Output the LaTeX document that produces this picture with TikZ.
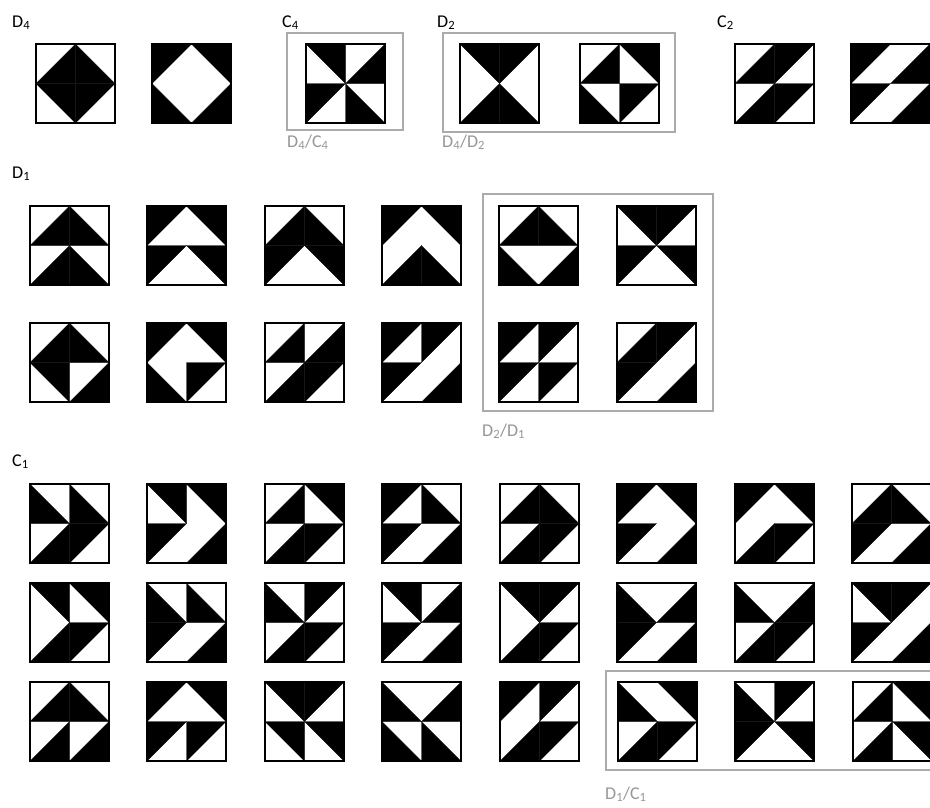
\documentclass[tikz,border=0pt]{standalone}
\usepackage{fontspec}
\setmainfont{Carlito}
\definecolor{boxgray}{HTML}{ABABAB}
\definecolor{labgray}{HTML}{979797}
\tikzset{
  tileborder/.style={draw=black, line width=1.6pt},
  groupbox/.style={draw=boxgray, line width=2.5pt},
  grouplabel/.style={anchor=base west, font=\fontsize{18}{21}\selectfont, text=black, inner sep=0pt},
  quotlabel/.style={anchor=base west, font=\fontsize{18}{21}\selectfont, text=labgray, inner sep=0pt},
  blk/.style={fill=black, draw=black, line width=0.3pt}
}
\newcommand\qdtl[3]{\path[blk] (#1,#2) -- ++(#3,0) -- ++(-#3,#3) -- cycle;}
\newcommand\qdtr[3]{\path[blk] (#1,#2) -- ++(#3,0) -- ++(0,#3) -- cycle;}
\newcommand\qdbl[3]{\path[blk] (#1,#2) -- ++(0,#3) -- ++(#3,0) -- cycle;}
\newcommand\qdbr[3]{\path[blk] (#1,#2) ++(#3,0) -- ++(0,#3) -- ++(-#3,0) -- cycle;}
\newcommand\mytile[6]{%
  \begin{scope}[shift={(#1,#2)}]
    \csname qd#3\endcsname{0}{0}{39.5}
    \csname qd#4\endcsname{39.5}{0}{39.5}
    \csname qd#5\endcsname{0}{39.5}{39.5}
    \csname qd#6\endcsname{39.5}{39.5}{39.5}
    \draw[tileborder] (0,0) rectangle (79,79);
  \end{scope}}
\newcommand\sbs[1]{\textsubscript{#1}}
\begin{document}
\begin{tikzpicture}[x=1pt,y=-1pt]
\useasboundingbox (0,0) rectangle (930,807);
\clip (0,0) rectangle (930,807);
\fill[white] (0,0) rectangle (930,807);
% group boxes
\draw[groupbox] (287,33) rectangle (403,130);
\draw[groupbox] (443,33) rectangle (675,132);
\draw[groupbox] (483,194) rectangle (713,411);
\draw[groupbox] (606,671) rectangle (945,770);
% labels
\node[grouplabel] (lD4) at (12,27) {D\sbs{4}};
\node[grouplabel] (lC4) at (282,27) {C\sbs{4}};
\node[grouplabel] (lD2) at (437,27) {D\sbs{2}};
\node[grouplabel] (lC2) at (717,27) {C\sbs{2}};
\node[grouplabel] (lD1) at (12,178) {D\sbs{1}};
\node[grouplabel] (lC1) at (12,466) {C\sbs{1}};
\node[quotlabel] (qD4C4) at (287,147) {D\sbs{4}/C\sbs{4}};
\node[quotlabel] (qD4D2) at (442,147) {D\sbs{4}/D\sbs{2}};
\node[quotlabel] (qD2D1) at (482,436) {D\sbs{2}/D\sbs{1}};
\node[quotlabel] (qD1C1) at (605,799) {D\sbs{1}/C\sbs{1}};
% top row
\mytile{36}{44}{br}{bl}{tr}{tl}
\mytile{152}{44}{tl}{tr}{bl}{br}
\mytile{306}{44}{tr}{br}{tl}{bl}
\mytile{460}{44}{tr}{tl}{br}{bl}
\mytile{580}{44}{br}{tr}{bl}{tl}
\mytile{735}{44}{br}{tl}{br}{tl}
\mytile{851}{44}{tl}{br}{tl}{br}
% D1 rows
\mytile{30}{206}{br}{bl}{br}{bl}
\mytile{147}{206}{tl}{tr}{tl}{tr}
\mytile{265}{206}{br}{bl}{tl}{tr}
\mytile{382}{206}{tl}{tr}{br}{bl}
\mytile{499}{206}{br}{bl}{bl}{br}
\mytile{617}{206}{tr}{tl}{tl}{tr}
\mytile{30}{323}{br}{bl}{tr}{br}
\mytile{147}{323}{tl}{tr}{bl}{tl}
\mytile{265}{323}{br}{br}{br}{tl}
\mytile{382}{323}{tl}{tl}{tl}{br}
\mytile{499}{323}{tl}{tl}{tl}{tl}
\mytile{617}{323}{br}{tl}{tl}{br}
% C1 row 1
\mytile{30}{484}{bl}{bl}{br}{tl}
\mytile{147}{484}{tr}{tr}{tl}{br}
\mytile{265}{484}{br}{tr}{br}{tl}
\mytile{382}{484}{tl}{bl}{tl}{br}
\mytile{500}{484}{br}{bl}{br}{tl}
\mytile{617}{484}{tl}{tr}{tl}{br}
\mytile{735}{484}{tl}{tr}{br}{tl}
\mytile{852}{484}{br}{bl}{tl}{br}
% C1 row 2
\mytile{30}{583}{tr}{tr}{br}{tl}
\mytile{147}{583}{bl}{bl}{tl}{br}
\mytile{265}{583}{bl}{tl}{br}{tl}
\mytile{382}{583}{tr}{br}{tl}{br}
\mytile{500}{583}{tr}{tl}{br}{tl}
\mytile{617}{583}{bl}{br}{tl}{br}
\mytile{735}{583}{bl}{br}{br}{tl}
\mytile{852}{583}{tr}{tl}{tl}{br}
% C1 row 3
\mytile{30}{682}{br}{bl}{br}{br}
\mytile{147}{682}{tl}{tr}{tl}{tl}
\mytile{265}{682}{tr}{tl}{tr}{tr}
\mytile{382}{682}{bl}{br}{bl}{bl}
\mytile{500}{682}{tl}{tl}{br}{tl}
\mytile{618}{682}{bl}{tr}{br}{tl}
\mytile{735}{682}{bl}{tl}{tl}{tr}
\mytile{853}{682}{br}{tr}{br}{tr}
\end{tikzpicture}
\end{document}
